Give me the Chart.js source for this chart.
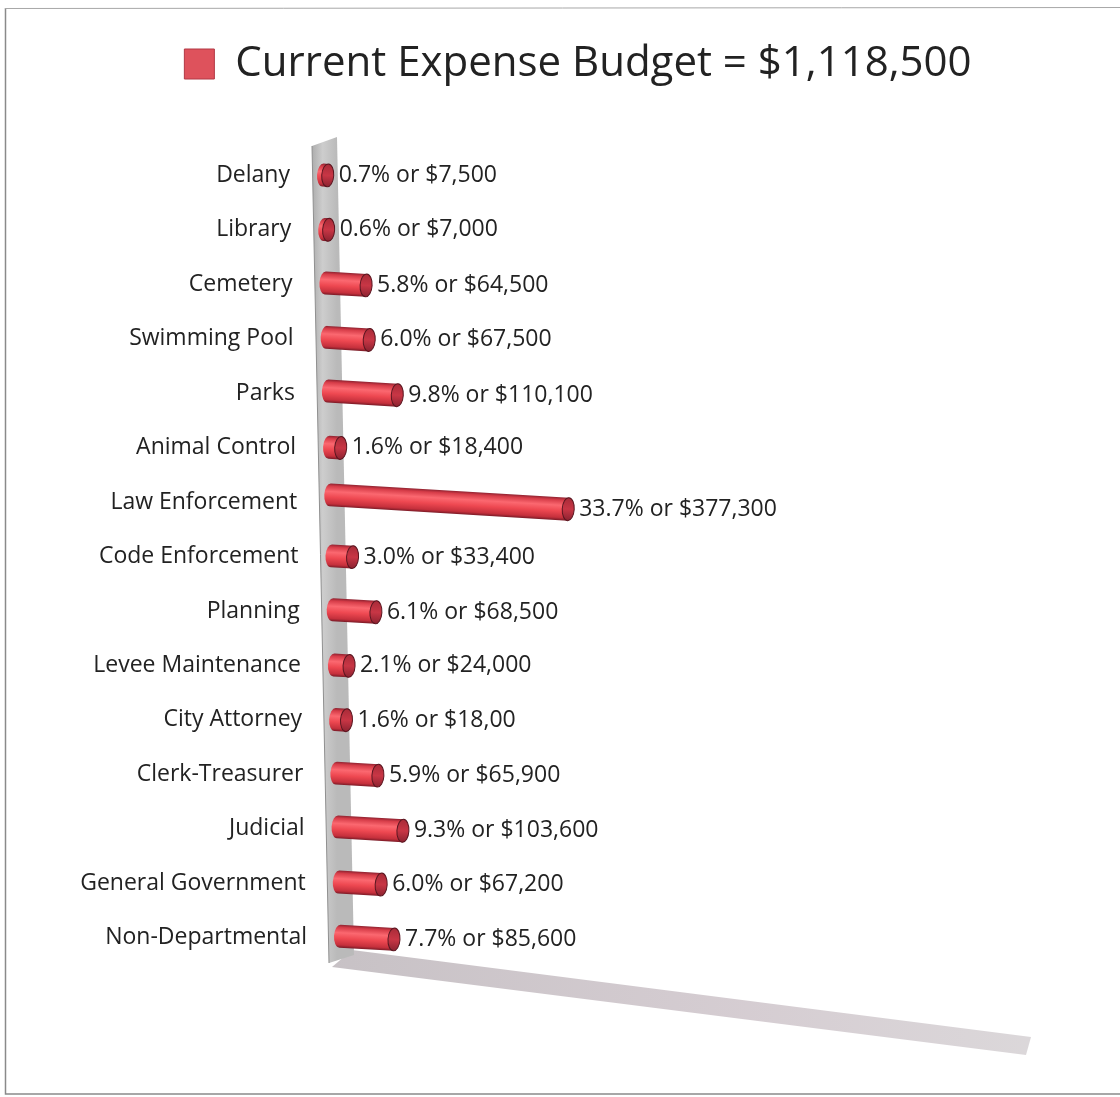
<!DOCTYPE html>
<html>
<head>
<meta charset="utf-8">
<script src="https://cdn.jsdelivr.net/npm/chart.js@4.4.1/dist/chart.umd.min.js"></script>
<style>
  html, body { margin: 0; padding: 0; background: #fff; }
</style>
</head>
<body>
<canvas id="budgetChart" width="1120" height="1097"></canvas>
<script>
// Departments, top to bottom
const departments = [
  "Delany", "Library", "Cemetery", "Swimming Pool", "Parks",
  "Animal Control", "Law Enforcement", "Code Enforcement", "Planning",
  "Levee Maintenance", "City Attorney", "Clerk-Treasurer", "Judicial",
  "General Government", "Non-Departmental"
];

// Dollar amounts per department
const amounts = [
  7500, 7000, 64500, 67500, 110100,
  18400, 377300, 33400, 68500,
  24000, 18000, 65900, 103600,
  67200, 85600
];

// Text printed at the end of each bar
const amountLabels = [
  "0.7% or $7,500", "0.6% or $7,000", "5.8% or $64,500", "6.0% or $67,500", "9.8% or $110,100",
  "1.6% or $18,400", "33.7% or $377,300", "3.0% or $33,400", "6.1% or $68,500",
  "2.1% or $24,000", "1.6% or $18,00", "5.9% or $65,900", "9.3% or $103,600",
  "6.0% or $67,200", "7.7% or $85,600"
];

const seriesName = "Current Expense Budget = $1,118,500";

const FONT = "'Open Sans', sans-serif";
const TEXT = "#222";

// the whole chart leans a little to the right as it goes down
function lean(i) {
  return (i / (departments.length - 1)) * 17;
}

// white page with the scanned frame lines
const frame = {
  id: "frame",
  beforeDraw(chart) {
    const ctx = chart.ctx;
    ctx.save();
    ctx.fillStyle = "#fff";
    ctx.fillRect(0, 0, chart.width, chart.height);
    ctx.strokeStyle = "#8a8a8a";
    ctx.lineWidth = 1.5;
    ctx.beginPath();
    ctx.moveTo(5.5, 8);
    ctx.lineTo(5.5, 1094);
    ctx.lineTo(chart.width, 1094);
    ctx.stroke();
    ctx.strokeStyle = "#a8a8a8";
    ctx.lineWidth = 1;
    ctx.beginPath();
    ctx.moveTo(5, 8.5);
    ctx.lineTo(chart.width, 7.5);
    ctx.stroke();
    ctx.restore();
  }
};

// back wall and floor of the 3d box
const wallAndFloor = {
  id: "wallAndFloor",
  beforeDatasetsDraw(chart) {
    const ctx = chart.ctx;
    const a = chart.chartArea;
    const n = departments.length - 1;
    ctx.save();

    // floor
    const fg = ctx.createLinearGradient(a.left, 0, a.right, 0);
    fg.addColorStop(0, "rgba(196,190,194,0.95)");
    fg.addColorStop(0.6, "rgba(206,196,202,0.85)");
    fg.addColorStop(1, "rgba(210,205,208,0.8)");
    ctx.fillStyle = fg;
    ctx.beginPath();
    ctx.moveTo(a.left + lean(n) + 12, a.bottom - 15);
    ctx.lineTo(a.right + 8, a.bottom + 72);
    ctx.lineTo(a.right + 3, a.bottom + 90);
    ctx.lineTo(a.left + lean(n) - 8, a.bottom + 2);
    ctx.closePath();
    ctx.fill();

    // wall
    const wg = ctx.createLinearGradient(a.left - 12, 0, a.left + 14, 0);
    wg.addColorStop(0, "#aaaaaa");
    wg.addColorStop(0.45, "#cdcdcd");
    wg.addColorStop(1, "#bababa");
    ctx.fillStyle = wg;
    ctx.beginPath();
    ctx.moveTo(a.left - 11, a.top - 2);
    ctx.lineTo(a.left + 14, a.top - 11);
    ctx.lineTo(a.left + 14 + lean(n), a.bottom - 10);
    ctx.lineTo(a.left - 11 + lean(n), a.bottom - 2);
    ctx.closePath();
    ctx.fill();
    ctx.strokeStyle = "#909090";
    ctx.lineWidth = 1;
    ctx.beginPath();
    ctx.moveTo(a.left - 11, a.top - 2);
    ctx.lineTo(a.left - 11 + lean(n), a.bottom - 2);
    ctx.stroke();
    ctx.restore();
  }
};

// bars drawn as red cylinders, with department names and value labels
const cylinders = {
  id: "cylinders",
  beforeDatasetDraw(chart, args) {
    const ctx = chart.ctx;
    const yScale = chart.scales.y;
    const a = chart.chartArea;

    args.meta.data.forEach((bar, i) => {
      const dx = lean(i);
      const x0 = bar.base + dx;
      const len = bar.x - bar.base;
      const tilt = len * 0.06;
      const h = bar.height;
      const y0 = bar.y - tilt / 2;
      const L = Math.hypot(len, tilt);
      const rx = 6;

      ctx.save();
      ctx.translate(x0, y0);
      ctx.rotate(Math.atan2(tilt, len));

      const g = ctx.createLinearGradient(0, -h / 2, 0, h / 2);
      g.addColorStop(0, "#8e2230");
      g.addColorStop(0.12, "#d63c48");
      g.addColorStop(0.35, "#fb6870");
      g.addColorStop(0.6, "#ee4851");
      g.addColorStop(0.88, "#c5303c");
      g.addColorStop(1, "#7a1b27");
      ctx.fillStyle = g;
      ctx.beginPath();
      ctx.ellipse(0, 0, rx, h / 2, 0, Math.PI / 2, Math.PI * 1.5);
      ctx.lineTo(L, -h / 2);
      ctx.lineTo(L, h / 2);
      ctx.closePath();
      ctx.fill();

      // end cap
      const cg = ctx.createLinearGradient(0, -h / 2, 0, h / 2);
      cg.addColorStop(0, "#a82b38");
      cg.addColorStop(0.5, "#c83645");
      cg.addColorStop(1, "#8c2230");
      ctx.fillStyle = cg;
      ctx.strokeStyle = "#5a1620";
      ctx.lineWidth = 1;
      ctx.beginPath();
      ctx.ellipse(L, 0, rx, h / 2, 0, 0, Math.PI * 2);
      ctx.fill();
      ctx.stroke();
      ctx.restore();

      // value label after the cap
      ctx.save();
      ctx.font = "23px " + FONT;
      ctx.fillStyle = TEXT;
      ctx.textAlign = "left";
      ctx.textBaseline = "middle";
      ctx.fillText(amountLabels[i], x0 + len + rx + 5, bar.y + tilt / 2);
      ctx.restore();
    });

    // department names on the left
    ctx.save();
    ctx.font = "23px " + FONT;
    ctx.fillStyle = TEXT;
    ctx.textAlign = "right";
    ctx.textBaseline = "middle";
    departments.forEach((name, i) => {
      ctx.fillText(name, a.left - 33 + lean(i), yScale.getPixelForValue(i));
    });
    ctx.restore();

    return false;
  }
};

const chart = new Chart(document.getElementById("budgetChart"), {
  type: "bar",
  data: {
    labels: departments,
    datasets: [
      {
        label: seriesName,
        data: amounts,
        backgroundColor: "#de525c",
        borderColor: "#b23844",
        borderWidth: 1,
        barThickness: 23,
      },
    ],
  },
  options: {
    indexAxis: "y",
    responsive: false,
    animation: false,
    devicePixelRatio: 1,
    layout: {
      padding: { left: 133, right: 97, top: 0, bottom: 132 },
    },
    scales: {
      x: {
        position: "top",
        min: 0,
        max: 1110000,
        grid: { display: false },
        border: { display: false },
        ticks: { display: false },
        // empty band between the legend and the plot
        afterFit(scale) {
          scale.height = 53;
        },
      },
      y: {
        grid: { display: false },
        border: { display: false },
        ticks: { display: false },
        afterFit(scale) {
          scale.width = 190;
        },
      },
    },
    plugins: {
      legend: {
        position: "top",
        labels: {
          boxWidth: 30,
          boxHeight: 30,
          padding: 43,
          color: TEXT,
          font: { family: FONT, size: 42 },
        },
      },
      tooltip: { enabled: false },
    },
  },
  plugins: [frame, wallAndFloor, cylinders],
});
</script>
</body>
</html>
